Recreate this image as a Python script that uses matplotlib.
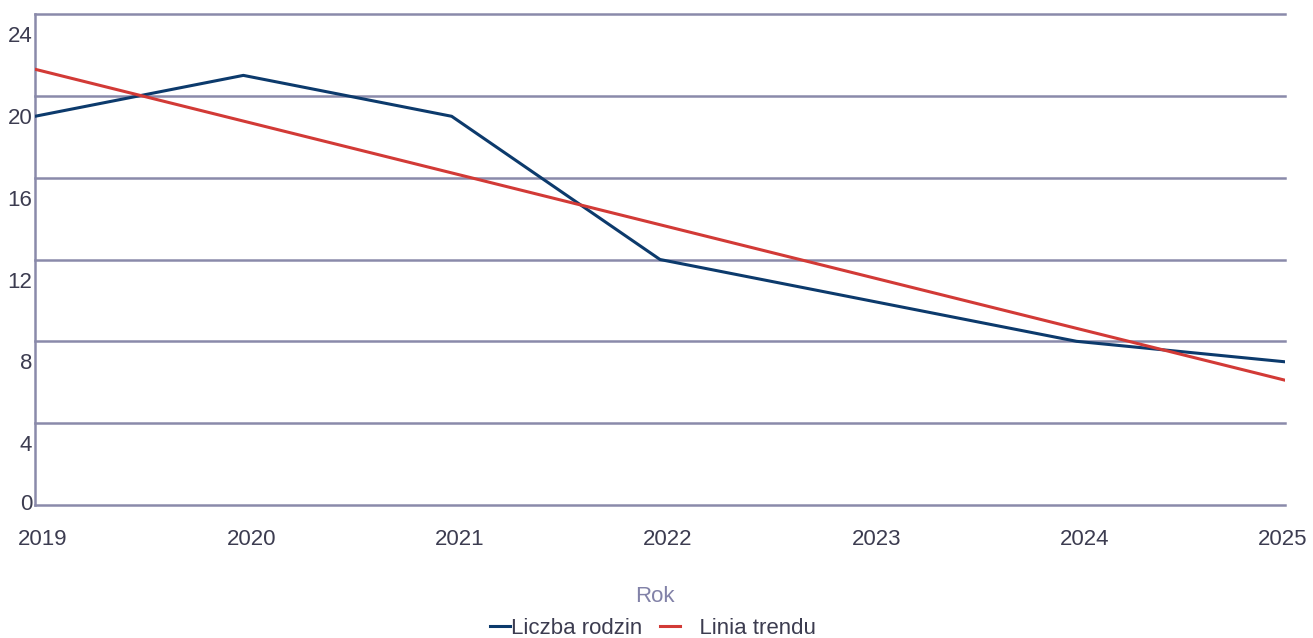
import matplotlib.pyplot as plt
import matplotlib.transforms as mtransforms

plt.rcParams["font.family"] = ["Liberation Sans", "DejaVu Sans"]

# dane
lata = [2019, 2020, 2021, 2022, 2023, 2024, 2025]
liczba_rodzin = [19, 21, 19, 12, 10, 8, 7]
trend_lata = [2019, 2025]
trend_wartosci = [21.3, 6.1]
y_ticks = [0, 4, 8, 12, 16, 20, 24]

kolor_siatki = "#8a8aaa"
kolor_tekstu = "#3c3c50"

fig = plt.figure(figsize=(13.13, 6.38), dpi=100)
ax = fig.add_axes([35 / 1313, (638 - 505) / 638, 1250 / 1313, 491 / 638])

ax.plot(lata, liczba_rodzin, color="#0c3a6c", lw=2.2, label="Liczba rodzin", zorder=3)
ax.plot(trend_lata, trend_wartosci, color="#d23a36", lw=2.2, label="   Linia trendu", zorder=4)

ax.set_xlim(2019, 2025)
ax.set_ylim(0, 24)

for v in y_ticks:
    ax.axhline(v, color=kolor_siatki, lw=1.8, zorder=1, clip_on=False)
for s in ["top", "right", "bottom"]:
    ax.spines[s].set_visible(False)
ax.spines["left"].set_color(kolor_siatki)
ax.spines["left"].set_linewidth(1.8)

ax.set_yticks(y_ticks)
ax.set_yticklabels([str(v) for v in y_ticks])
ax.set_xticks(lata)
ax.set_xticklabels([str(r) for r in lata])
ax.tick_params(axis="both", length=0, labelsize=16, labelcolor=kolor_tekstu)
ax.tick_params(axis="y", pad=2)
ax.tick_params(axis="x", pad=17)

for lab, v in zip(ax.get_yticklabels(), y_ticks):
    dy = 2.5 if v == 0 else -20
    lab.set_transform(lab.get_transform() + mtransforms.ScaledTranslation(0, dy / 100, fig.dpi_scale_trans))
for lab, r in zip(ax.get_xticklabels(), lata):
    dx = -2 if r == 2025 else 8
    lab.set_transform(lab.get_transform() + mtransforms.ScaledTranslation(dx / 100, 0, fig.dpi_scale_trans))

fig.text(655 / 1313, 1 - 597 / 638, "Rok", ha="center", va="center", fontsize=16, color="#8282a8")

leg = fig.legend(loc="center", bbox_to_anchor=(653 / 1313, 1 - 628 / 638), ncol=2, frameon=False,
                 fontsize=16, handlelength=0.9, handletextpad=0.05, columnspacing=0.8,
                 borderpad=0, borderaxespad=0)
for t in leg.get_texts():
    t.set_color(kolor_tekstu)

fig.savefig("out.png", dpi=100)
